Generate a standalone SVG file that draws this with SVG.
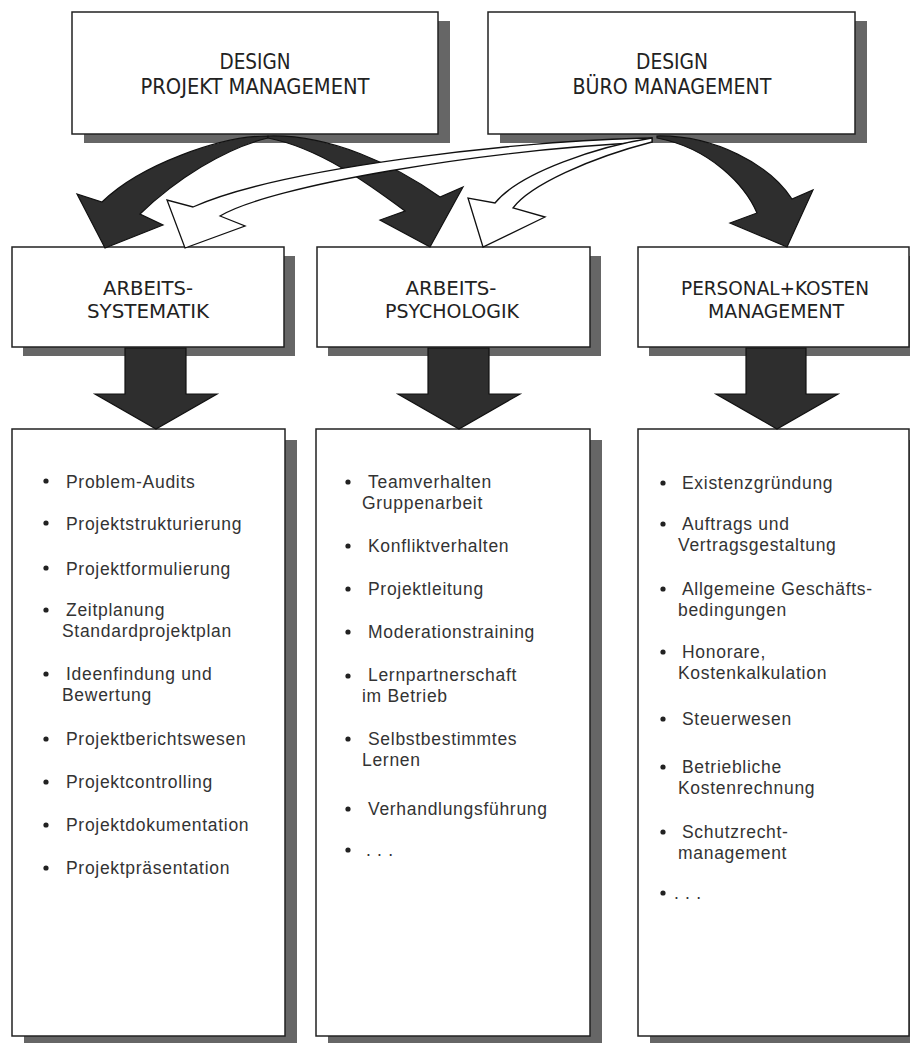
<svg xmlns="http://www.w3.org/2000/svg" width="910" height="1043" viewBox="0 0 910 1043">
<style>
.shadow{fill:#666;}
.box{fill:#fff;stroke:#222;stroke-width:1.5;}
.head{font-family:"DejaVu Sans","Liberation Sans",sans-serif;font-stretch:condensed;font-size:21px;fill:#222;text-anchor:middle;}
.head2{font-family:"DejaVu Sans","Liberation Sans",sans-serif;font-stretch:condensed;font-size:19.5px;fill:#222;text-anchor:middle;}
.item{font-family:"Liberation Sans",Arial,sans-serif;font-size:17.5px;letter-spacing:0.7px;fill:#333;}
.bul{fill:#222;}
.blk{fill:#2e2e2e;stroke:#111;stroke-width:1.2;stroke-linejoin:miter;}
.wht{fill:#fff;stroke:#111;stroke-width:1.3;stroke-linejoin:miter;}
</style>
<rect width="910" height="1043" fill="#fff"/>

<g id="node-design-projekt">
<rect class="shadow" x="84" y="21" width="366" height="122"/>
<rect class="box" x="72" y="12" width="366" height="122"/>
<text class="head" x="255" y="69" textLength="71" lengthAdjust="spacingAndGlyphs">DESIGN</text>
<text class="head" x="255" y="94" textLength="229" lengthAdjust="spacingAndGlyphs">PROJEKT MANAGEMENT</text>
</g>
<g id="node-design-buero">
<rect class="shadow" x="500" y="21" width="367" height="122"/>
<rect class="box" x="488" y="12" width="367" height="122"/>
<text class="head" x="672" y="69" textLength="72" lengthAdjust="spacingAndGlyphs">DESIGN</text>
<text class="head" x="672" y="94" textLength="199" lengthAdjust="spacingAndGlyphs">BÜRO MANAGEMENT</text>
</g>

<g id="node-arbeitssystematik">
<rect class="shadow" x="23" y="256" width="272" height="100"/>
<rect class="box" x="12" y="247" width="272" height="100"/>
<text class="head2" x="148" y="295" textLength="90" lengthAdjust="spacingAndGlyphs">ARBEITS-</text>
<text class="head2" x="148" y="318" textLength="122" lengthAdjust="spacingAndGlyphs">SYSTEMATIK</text>
</g>
<g id="node-arbeitspsychologik">
<rect class="shadow" x="328" y="256" width="273" height="100"/>
<rect class="box" x="317" y="247" width="273" height="100"/>
<text class="head2" x="451" y="295" textLength="91" lengthAdjust="spacingAndGlyphs">ARBEITS-</text>
<text class="head2" x="452" y="318" textLength="134" lengthAdjust="spacingAndGlyphs">PSYCHOLOGIK</text>
</g>
<g id="node-personal-kosten">
<rect class="shadow" x="649" y="256" width="271" height="100"/>
<rect class="box" x="638" y="247" width="271" height="100"/>
<text class="head2" x="775" y="295" textLength="188" lengthAdjust="spacingAndGlyphs">PERSONAL+KOSTEN</text>
<text class="head2" x="776" y="318" textLength="136" lengthAdjust="spacingAndGlyphs">MANAGEMENT</text>
</g>

<g id="node-list-systematik">
<rect class="shadow" x="24" y="440" width="273" height="607"/>
<rect class="box" x="12" y="429" width="273" height="607"/>
<g class="bul">
<circle cx="46" cy="481" r="2.6"/><circle cx="46" cy="523" r="2.6"/><circle cx="46" cy="568" r="2.6"/>
<circle cx="46" cy="610" r="2.6"/><circle cx="46" cy="674" r="2.6"/><circle cx="46" cy="739" r="2.6"/>
<circle cx="46" cy="782" r="2.6"/><circle cx="46" cy="825" r="2.6"/><circle cx="46" cy="868" r="2.6"/>
</g>
<text class="item" x="66" y="488">Problem-Audits</text>
<text class="item" x="66" y="530">Projektstrukturierung</text>
<text class="item" x="66" y="575">Projektformulierung</text>
<text class="item" x="66" y="616">Zeitplanung<tspan x="62" y="637">Standardprojektplan</tspan></text>
<text class="item" x="66" y="680">Ideenfindung und<tspan x="62" y="701">Bewertung</tspan></text>
<text class="item" x="66" y="745">Projektberichtswesen</text>
<text class="item" x="66" y="788">Projektcontrolling</text>
<text class="item" x="66" y="831">Projektdokumentation</text>
<text class="item" x="66" y="874">Projektpräsentation</text>
</g>

<g id="node-list-psychologik">
<rect class="shadow" x="328" y="440" width="274" height="607"/>
<rect class="box" x="316" y="429" width="274" height="607"/>
<g class="bul">
<circle cx="348" cy="482" r="2.6"/><circle cx="348" cy="546" r="2.6"/><circle cx="348" cy="589" r="2.6"/>
<circle cx="348" cy="632" r="2.6"/><circle cx="348" cy="676" r="2.6"/><circle cx="348" cy="739" r="2.6"/>
<circle cx="348" cy="809" r="2.6"/><circle cx="348" cy="850" r="2.6"/>
</g>
<text class="item" x="368" y="488">Teamverhalten<tspan x="362" y="509">Gruppenarbeit</tspan></text>
<text class="item" x="368" y="552">Konfliktverhalten</text>
<text class="item" x="368" y="595">Projektleitung</text>
<text class="item" x="368" y="638">Moderationstraining</text>
<text class="item" x="368" y="681">Lernpartnerschaft<tspan x="362" y="702">im Betrieb</tspan></text>
<text class="item" x="368" y="745">Selbstbestimmtes<tspan x="362" y="766">Lernen</tspan></text>
<text class="item" x="368" y="815">Verhandlungsführung</text>
<text class="item" x="366" y="856">. . .</text>
</g>

<g id="node-list-kosten">
<rect class="shadow" x="650" y="440" width="271" height="607"/>
<rect class="box" x="638" y="429" width="271" height="607"/>
<g class="bul">
<circle cx="663" cy="483" r="2.6"/><circle cx="663" cy="524" r="2.6"/><circle cx="663" cy="589" r="2.6"/>
<circle cx="663" cy="652" r="2.6"/><circle cx="663" cy="719" r="2.6"/><circle cx="663" cy="767" r="2.6"/>
<circle cx="663" cy="832" r="2.6"/><circle cx="663" cy="893" r="2.6"/>
</g>
<text class="item" x="682" y="489">Existenzgründung</text>
<text class="item" x="682" y="530">Auftrags und<tspan x="678" y="551">Vertragsgestaltung</tspan></text>
<text class="item" x="682" y="595">Allgemeine Geschäfts-<tspan x="678" y="616">bedingungen</tspan></text>
<text class="item" x="682" y="658">Honorare,<tspan x="678" y="679">Kostenkalkulation</tspan></text>
<text class="item" x="682" y="725">Steuerwesen</text>
<text class="item" x="682" y="773">Betriebliche<tspan x="678" y="794">Kostenrechnung</tspan></text>
<text class="item" x="682" y="838">Schutzrecht-<tspan x="678" y="859">management</tspan></text>
<text class="item" x="674" y="899">. . .</text>
</g>

<g id="connectors">
<path class="blk" d="M268,136 C220,136 140,165 102,202 L77,194 L105,248 L163,225 L140,214 C175,180 225,148 268,138 Z"/>
<path class="blk" d="M268,136 C330,134 395,165 440,197 L463,187 L430,247 L380,220 L405,211 C370,185 320,148 268,138 Z"/>
<path class="blk" d="M657,136 C715,135 770,165 792,199 L813,190 L787,247 L730,223 L757,213 C745,185 710,148 657,138 Z"/>
<path class="wht" d="M652,138 C520,140 280,168 193,207 L167,200 L185,248 L245,226 L220,216 C270,186 480,150 652,142 Z"/>
<path class="wht" d="M652,138 C600,146 520,172 495,203 L468,198 L483,247 L545,217 L513,208 C530,185 590,158 652,142 Z"/>
<path class="blk" d="M125,348 L186,348 L186,394 L217,394 L156,429 L95,394 L125,394 Z"/>
<path class="blk" d="M428,348 L489,348 L489,394 L520,394 L459,429 L398,394 L428,394 Z"/>
<path class="blk" d="M746,348 L806,348 L806,394 L838,394 L777,429 L716,394 L746,394 Z"/>
</g>
</svg>
